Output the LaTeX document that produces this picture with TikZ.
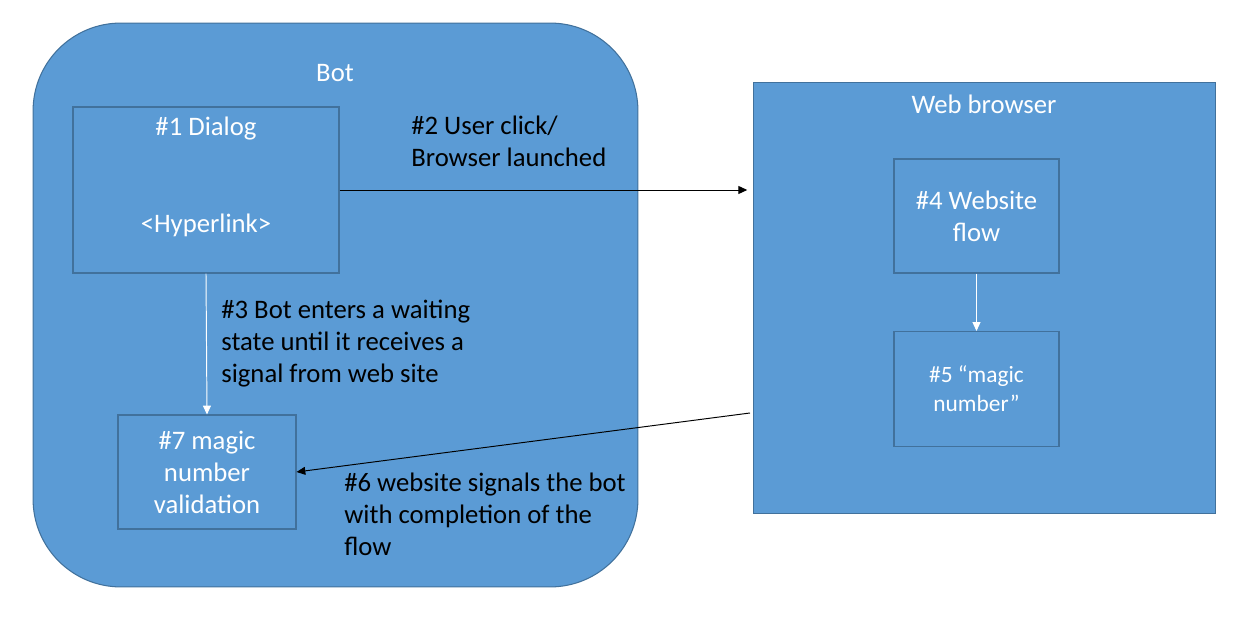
\documentclass[tikz,border=0pt]{standalone}
\usepackage{fontspec}
\setmainfont{Carlito}
\usetikzlibrary{arrows.meta}
\definecolor{boxblue}{HTML}{5B9BD5}
\definecolor{edgeblue}{HTML}{41719C}
\tikzset{
  panel/.style={draw=edgeblue, fill=boxblue, line width=0.6pt},
  inbox/.style={draw=edgeblue, line width=0.6pt, inner sep=0pt},
  wlabel/.style={text=white, font=\fontsize{15.2}{18.2}\selectfont, align=center, inner sep=0pt},
  blabel/.style={text=black, font=\fontsize{15.2}{18.2}\selectfont, align=left, inner sep=0pt, anchor=west},
  flowarrow/.style={-{Triangle[length=5pt,width=4.5pt]}, line width=0.55pt}
}
\begin{document}
\begin{tikzpicture}[x=0.02cm, y=-0.02cm]
  \useasboundingbox (0,0) rectangle (1252,621);
  % the two containers
  \node[panel, rounded corners=50pt, minimum width=12.1cm, minimum height=11.28cm] (bot) at (335.5,305) {};
  \node[panel, minimum width=9.26cm, minimum height=8.64cm] (browser) at (984.5,298) {};
  \node[wlabel] (botlbl) at (335,73) {Bot};
  \node[wlabel] (weblbl) at (984,104) {Web browser};
  % inner boxes
  \node[inbox, minimum width=5.32cm, minimum height=3.32cm] (dialog) at (206,190) {};
  \node[wlabel] (dlglbl) at (206,129) {\#1 Dialog};
  \node[wlabel] (linklbl) at (206,225) {<Hyperlink>};
  \node[inbox, wlabel, minimum width=3.56cm, minimum height=2.28cm] (validate) at (207,472) {\#7 magic\\number\\validation};
  \node[inbox, wlabel, minimum width=3.3cm, minimum height=2.28cm] (website) at (976.5,216) {\#4 Website\\flow};
  \node[inbox, wlabel, font=\fontsize{13.3}{16.5}\selectfont, minimum width=3.3cm, minimum height=2.3cm] (magic) at (976.5,389) {\#5 “magic\\number”};
  % connectors
  \draw[flowarrow, white] (dialog.south) -- (validate.north);
  \draw[flowarrow, white] (website.south) -- (magic.north);
  \draw[flowarrow, shorten >=3pt] (dialog.east) -- (dialog.east -| browser.west);
  \coordinate (signal) at (750,413);
  \draw[flowarrow] (signal) -- (validate.east);
  % step texts
  \node[blabel] (clicklbl) at (411,141) {\#2 User click/\\Browser launched};
  \node[blabel] (waitlbl) at (221,344) {\#3 Bot enters a waiting\\state until it receives a\\signal from web site};
  \node[blabel] (signallbl) at (344,514) {\#6 website signals the bot\\with completion of the\\flow};
\end{tikzpicture}
\end{document}
